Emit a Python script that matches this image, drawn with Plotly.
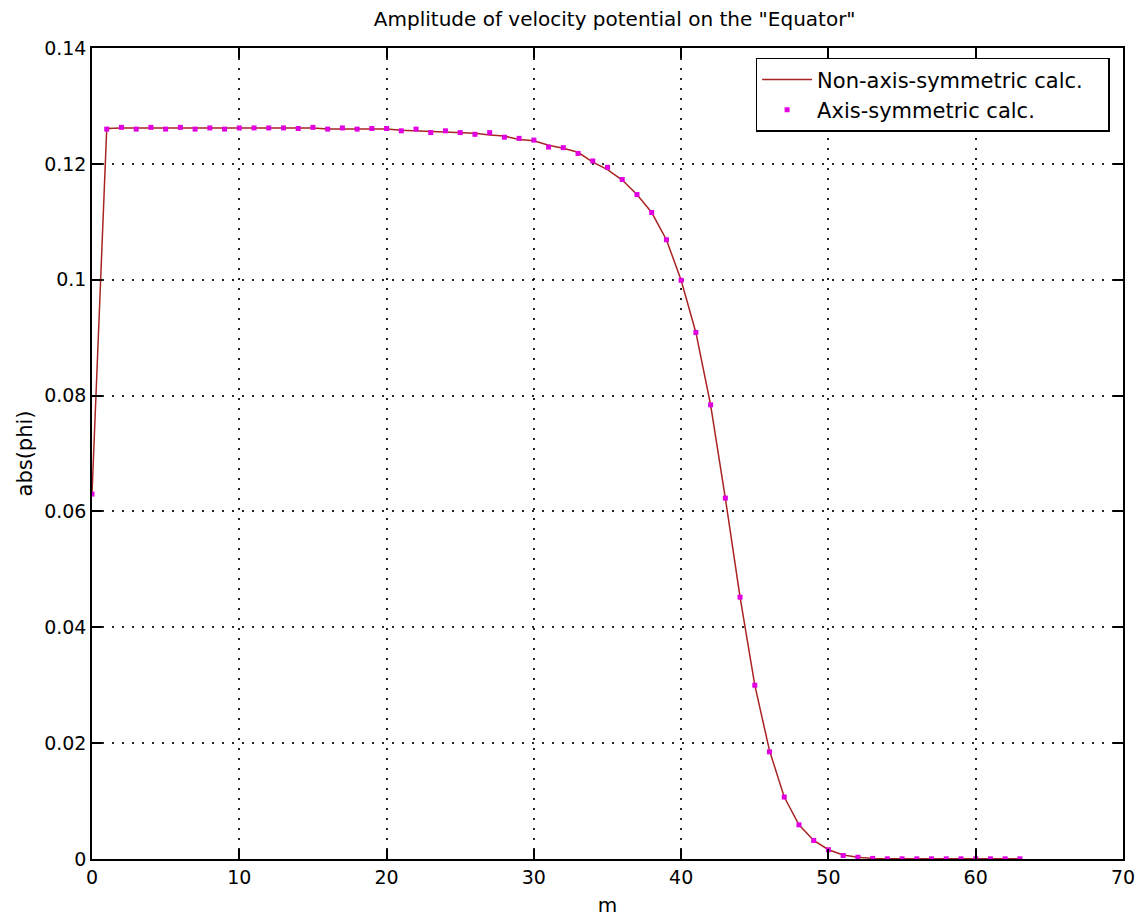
import plotly.graph_objects as go

m_vals = list(range(0, 64))

# Axis-symmetric calc. (markers)
axis_sym = [0.0630, 0.1260, 0.1263, 0.1260, 0.1263, 0.1260, 0.1263, 0.1260, 0.1262, 0.1260,
            0.1262, 0.1262, 0.1262, 0.1262, 0.1261, 0.1263, 0.1260, 0.1262, 0.1260, 0.1261,
            0.1261, 0.1257, 0.1260, 0.1254, 0.1257, 0.1254, 0.1251, 0.1254, 0.1246, 0.1244,
            0.1241, 0.1229, 0.1228, 0.1218, 0.1205, 0.1194, 0.1173, 0.1147, 0.1116, 0.1069,
            0.0999, 0.0909, 0.0784, 0.0623, 0.0452, 0.0300, 0.0185, 0.0107, 0.0059, 0.0032,
            0.0016, 0.0006, 0.0003, 0.0001, 0.00003, 0.00003, 0.00003, 0.00003, 0.00003, 0.00003,
            0.00003, 0.00003, 0.00003, 0.00003]

# Non-axis-symmetric calc. (line)
non_axis_sym = [0.0630, 0.1261, 0.1262, 0.1262, 0.1262, 0.1262, 0.1262, 0.1262, 0.1262, 0.1262,
                0.1262, 0.1262, 0.1262, 0.1262, 0.1262, 0.1262, 0.1260, 0.1260, 0.1260, 0.1260,
                0.1260, 0.1258, 0.1257, 0.1256, 0.1256, 0.1255, 0.1253, 0.1250, 0.1248, 0.1242,
                0.1240, 0.1232, 0.1227, 0.1220, 0.1203, 0.1190, 0.1172, 0.1147, 0.1116, 0.1069,
                0.0999, 0.0909, 0.0784, 0.0623, 0.0452, 0.0300, 0.0187, 0.0107, 0.0059, 0.0032,
                0.0016, 0.0007, 0.0003, 0.0001, 0.00003, 0.00003, 0.00003, 0.00003, 0.00003, 0.00003,
                0.00003, 0.00003, 0.00003, 0.00003]

x_ticks = [0, 10, 20, 30, 40, 50, 60, 70]
y_ticks = [0, 0.02, 0.04, 0.06, 0.08, 0.1, 0.12, 0.14]
y_tick_text = ["0", "0.02", "0.04", "0.06", "0.08", "0.1", "0.12", "0.14"]

FONT = "DejaVu Sans, Verdana, sans-serif"

fig = go.Figure()
fig.add_trace(go.Scatter(
    x=m_vals, y=non_axis_sym, mode="lines", name="Non-axis-symmetric calc.&nbsp;&nbsp;&nbsp;",
    line=dict(color="rgb(170,35,35)", width=1.5),
))
fig.add_trace(go.Scatter(
    x=m_vals, y=axis_sym, mode="markers", name="Axis-symmetric calc.",
    marker=dict(color="rgb(225,0,225)", size=5, symbol="square"),
))

axis_common = dict(
    showline=True, linecolor="black", linewidth=1.5, mirror="ticks",
    ticks="inside", ticklen=10, tickcolor="black", tickwidth=1.5,
    showgrid=True, gridcolor="rgba(0,0,0,0.85)", gridwidth=2, griddash="2px,8px",
    zeroline=False, automargin=False,
    tickfont=dict(family=FONT, size=19, color="black"),
)

fig.update_xaxes(range=[0, 70], tickvals=x_ticks, ticktext=[str(v) for v in x_ticks],
                 title=dict(text="m", font=dict(family=FONT, size=20, color="black"), standoff=11),
                 **axis_common)
fig.update_yaxes(range=[0, 0.14], tickvals=y_ticks, ticktext=y_tick_text,
                 title=dict(text="abs(phi)", font=dict(family=FONT, size=21, color="black"), standoff=6),
                 **axis_common)

fig.update_layout(
    width=1140, height=920,
    margin=dict(l=92, r=17, t=48, b=61),
    paper_bgcolor="white", plot_bgcolor="white",
    title=dict(text='Amplitude of velocity potential on the "Equator"',
               xref="paper", x=0.507, xanchor="center", y=1 - 19 / 920, yanchor="middle",
               font=dict(family=FONT, size=20, color="black")),
    legend=dict(x=0.987, y=0.988, xanchor="right", yanchor="top",
                bgcolor="white", bordercolor="black", borderwidth=1.5,
                font=dict(family=FONT, size=21, color="black"),
                tracegroupgap=0, itemwidth=50),
    showlegend=True,
)

fig.write_html("out.html", config={"displayModeBar": False},
               post_script="document.body.style.margin='0px';document.body.style.overflow='hidden';")
